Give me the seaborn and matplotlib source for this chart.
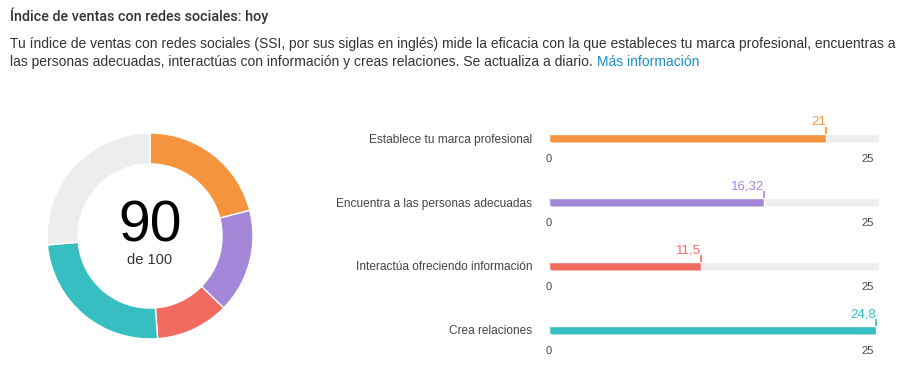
import matplotlib
matplotlib.use("Agg")
import matplotlib.pyplot as plt
import matplotlib.transforms as mtransforms
from matplotlib.patches import FancyBboxPatch
import pandas as pd
import seaborn as sns

# -----------------------------------------------------------------------------
# Social Selling Index (SSI): donut with the total plus one bar per pillar
# -----------------------------------------------------------------------------

categories = ["Establece tu marca profesional",
              "Encuentra a las personas adecuadas",
              "Interactúa ofreciendo información",
              "Crea relaciones"]
scores = [21, 16.32, 11.5, 24.8]
score_labels = ["21", "16,32", "11,5", "24,8"]
pillar_max = 25
total_score = 90
total_max = 100

title = "Índice de ventas con redes sociales: hoy"
desc_line1 = ("Tu índice de ventas con redes sociales (SSI, por sus siglas en inglés) mide la eficacia "
              "con la que estableces tu marca profesional, encuentras a")
desc_line2 = "las personas adecuadas, interactúas con información y creas relaciones. Se actualiza a diario."
link_text = "Más información"

colors = ["#F5943C", "#A587D9", "#F26B61", "#36BEC2"]
track_color = "#EDEDED"
text_color = "#333333"
link_color = "#1A8FC9"

W, H = 910, 374


def fx(x):
    return x / W


def fy(y):
    return 1 - y / H


def draw_header(fig):
    fig.text(fx(10), fy(16), title, fontsize=10.4, fontweight="medium",
             family=["Roboto", "Liberation Sans"],
             color=text_color, ha="left", va="center")
    fig.text(fx(10), fy(44), desc_line1, fontsize=10, color=text_color,
             ha="left", va="center")
    t2 = fig.text(fx(10), fy(62), desc_line2, fontsize=10, color=text_color,
                  ha="left", va="center")
    renderer = fig.canvas.get_renderer()
    end = t2.get_window_extent(renderer).x1
    fig.text(end / W + fx(4), fy(62), link_text, fontsize=10,
             color=link_color, ha="left", va="center")


def draw_donut(fig):
    cx, cy, r = 150, 236, 104
    ax = fig.add_axes([fx(cx - r), fy(cy + r), 2 * r / W, 2 * r / H])
    values = scores + [total_max - sum(scores)]
    ax.pie(values, colors=colors + [track_color], startangle=90,
           counterclock=False,
           wedgeprops=dict(width=0.3, edgecolor="white", linewidth=1))
    ax.set_xlim(-1.01, 1.01)
    ax.set_ylim(-1.01, 1.01)
    ax.text(0, -0.058, str(total_score), fontsize=41, color="black",
            ha="center", va="baseline")
    ax.text(0, -0.27, f"de {total_max}", fontsize=10.5, color=text_color,
            ha="center", va="baseline")


def draw_bars(fig):
    bar_y = [138, 202, 266, 330]
    x0, x1, bh = 549, 879, 9
    for cat, val, lab, col, y in zip(categories, scores, score_labels, colors, bar_y):
        ax = fig.add_axes([fx(x0), fy(y + bh / 2), (x1 - x0) / W, bh / H])
        df = pd.DataFrame({"pillar": [cat], "score": [val], "max": [pillar_max]})
        sns.barplot(data=df, x="max", y="pillar", color=track_color,
                    width=1, saturation=1, ax=ax)
        sns.barplot(data=df, x="score", y="pillar", color=col,
                    width=1, saturation=1, ax=ax)
        ax.set_xlim(0, pillar_max)
        ax.set_ylim(0.5, -0.5)

        # rounded ends of the track
        rx = (bh / 2) / (x1 - x0)
        clip = FancyBboxPatch((0, 0), 1, 1,
                              boxstyle=f"round,pad=0,rounding_size={rx}",
                              mutation_aspect=0.5 / rx,
                              transform=ax.transAxes, facecolor="none",
                              edgecolor="none")
        for p in ax.patches:
            p.set_clip_path(clip)

        for s in ax.spines.values():
            s.set_visible(False)
        ax.set_xlabel("")
        ax.set_ylabel("")
        ax.set_xticks([0, pillar_max])
        ax.set_xticklabels(["0", str(pillar_max)])
        ax.tick_params(axis="x", length=0, pad=8, labelsize=8, labelcolor="#444444")
        ax.tick_params(axis="y", length=0, pad=12, labelsize=8.6, labelcolor="#444444")
        ticks = ax.get_xticklabels()
        ticks[1].set_ha("right")
        ticks[1].set_transform(ticks[1].get_transform() +
                               mtransforms.ScaledTranslation(-5 / 100, 0, fig.dpi_scale_trans))
        # marker line and value label at the end of the bar
        ax.plot([val, val], [-0.5, -1.2], color=col, lw=1.2, clip_on=False,
                solid_capstyle="butt")
        ax.text(val, -1.75, lab, fontsize=9.5, color=col, ha="right",
                va="center", clip_on=False)


def main():
    sns.set_style("white")
    plt.rcParams["font.family"] = ["Liberation Sans", "DejaVu Sans"]
    fig = plt.figure(figsize=(W / 100, H / 100), dpi=100)
    draw_header(fig)
    draw_donut(fig)
    draw_bars(fig)
    fig.savefig("out.png", dpi=100, facecolor="white")


if __name__ == "__main__":
    main()
